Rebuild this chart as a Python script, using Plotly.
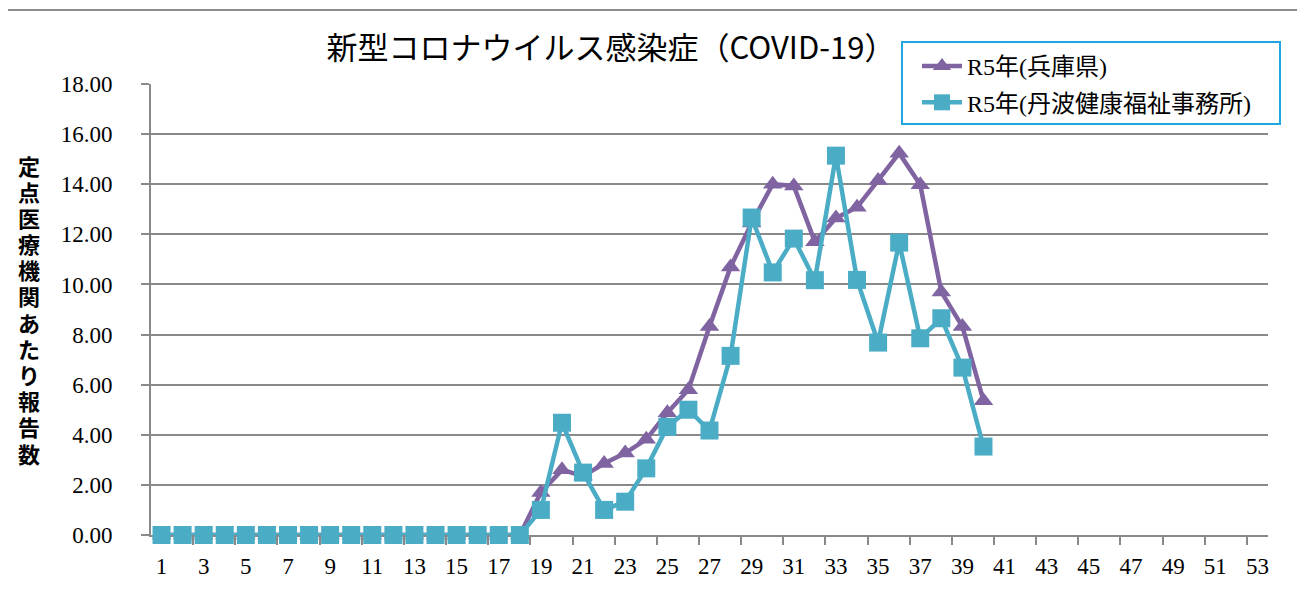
import plotly.graph_objects as go

weeks = list(range(1, 54))
hyogo = [0]*18 + [1.70, 2.60, 2.35, 2.85, 3.27, 3.82, 4.88, 5.80, 8.32, 10.70,
                  12.45, 14.00, 13.93, 11.70, 12.65, 13.08, 14.15, 15.24, 13.98, 9.70,
                  8.32, 5.36] + [None]*13
tamba = [0]*18 + [1.00, 4.48, 2.49, 1.00, 1.33, 2.66, 4.32, 5.00, 4.17, 7.15,
                  12.67, 10.48, 11.83, 10.17, 15.14, 10.18, 7.68, 11.67, 7.85, 8.65,
                  6.68, 3.53] + [None]*13
x_ticks = list(range(1, 54, 2))
y_ticks = [0, 2, 4, 6, 8, 10, 12, 14, 16, 18]
title_text = "新型コロナウイルス感染症（COVID-19）"
y_title = "定点医療機関あたり報告数"
names = ["R5年(兵庫県)", "R5年(丹波健康福祉事務所)"]

PURPLE = "#8064A2"
TEAL = "#4BACC6"
GRID = "#898989"
SERIF = "Liberation Serif, Noto Sans CJK JP"

fig = go.Figure()
fig.add_trace(go.Scatter(x=weeks, y=hyogo, name=names[0], mode="lines+markers",
                         line=dict(color=PURPLE, width=4.5),
                         marker=dict(symbol="triangle-up", size=17, color=PURPLE),
                         cliponaxis=False, legendgroup="a"))
fig.add_trace(go.Scatter(x=weeks, y=tamba, name=names[1], mode="lines+markers",
                         line=dict(color=TEAL, width=4.5),
                         marker=dict(symbol="square", size=18, color=TEAL),
                         cliponaxis=False, legendgroup="b"))

# page offset (browser body margin)
OFF = 8
W, H = 1305 - OFF, 601 - OFF
L = 151 - OFF
T = 84 - OFF
R = W - (1268 - OFF)
B = H - (535 - OFF)
pw, ph = W - L - R, H - T - B

def px(x):
    return (x - OFF - L) / pw

def py(y):
    return (H - B - (y - OFF)) / ph

annotations = []
n = len(y_title)
top_c, bot_c = 167, 455
for i, ch in enumerate(y_title):
    yc = top_c + (bot_c - top_c) * i / (n - 1)
    annotations.append(dict(text=ch, x=px(29), y=py(yc), xref="paper", yref="paper",
                            showarrow=False, xanchor="center", yanchor="middle",
                            borderpad=0,
                            font=dict(family="Liberation Sans, Noto Sans CJK JP",
                                      size=22, color="black", weight="bold")))

fig.update_layout(
    width=W, height=H,
    margin=dict(l=L, r=R, t=T, b=B, autoexpand=False),
    paper_bgcolor="white", plot_bgcolor="white",
    title=dict(text=title_text, x=(611 - OFF)/W, xanchor="center",
               y=1-(48 - OFF)/H, yanchor="middle",
               font=dict(family="Noto Sans CJK JP", size=31, color="black")),
    showlegend=True,
    legend=dict(x=px(917), y=py(44), xanchor="left", yanchor="top",
                bgcolor="rgba(0,0,0,0)", borderwidth=0,
                font=dict(family=SERIF, size=24, color="black"),
                tracegroupgap=2, traceorder="grouped", itemwidth=40),
    xaxis=dict(range=[0.5, 53.5], tickmode="array", tickvals=x_ticks,
               ticktext=[str(v) for v in x_ticks], ticks="", showgrid=False,
               showline=True, linecolor=GRID, linewidth=2, zeroline=False,
               tickfont=dict(family=SERIF, size=23, color="black"),
               ticklabelstandoff=9, layer="below traces",
               minor=dict(tickmode="array", tickvals=[v + 0.5 for v in range(2, 53, 2)],
                          ticks="outside", ticklen=8, tickwidth=2, tickcolor=GRID,
                          showgrid=False)),
    yaxis=dict(range=[0, 18], tickmode="array", tickvals=y_ticks,
               ticktext=[f"{v:.2f}" for v in y_ticks], ticks="outside",
               ticklen=8, tickwidth=2, tickcolor=GRID,
               showgrid=True, gridcolor=GRID, gridwidth=2,
               showline=True, linecolor=GRID, linewidth=2, zeroline=False,
               tickfont=dict(family=SERIF, size=23, color="black"),
               ticklabelstandoff=24, layer="below traces"),
    annotations=annotations,
    shapes=[
        dict(type="rect", xref="paper", yref="paper", x0=px(6), x1=px(1300),
             y0=py(640), y1=py(10), line=dict(color="#8C8C8C", width=2), layer="below"),
        dict(type="rect", xref="paper", yref="paper", x0=px(902), x1=px(1280),
             y0=py(124), y1=py(42), line=dict(color="#1FA6E0", width=2), layer="above"),
    ],
)

fig.write_html("out.html")
